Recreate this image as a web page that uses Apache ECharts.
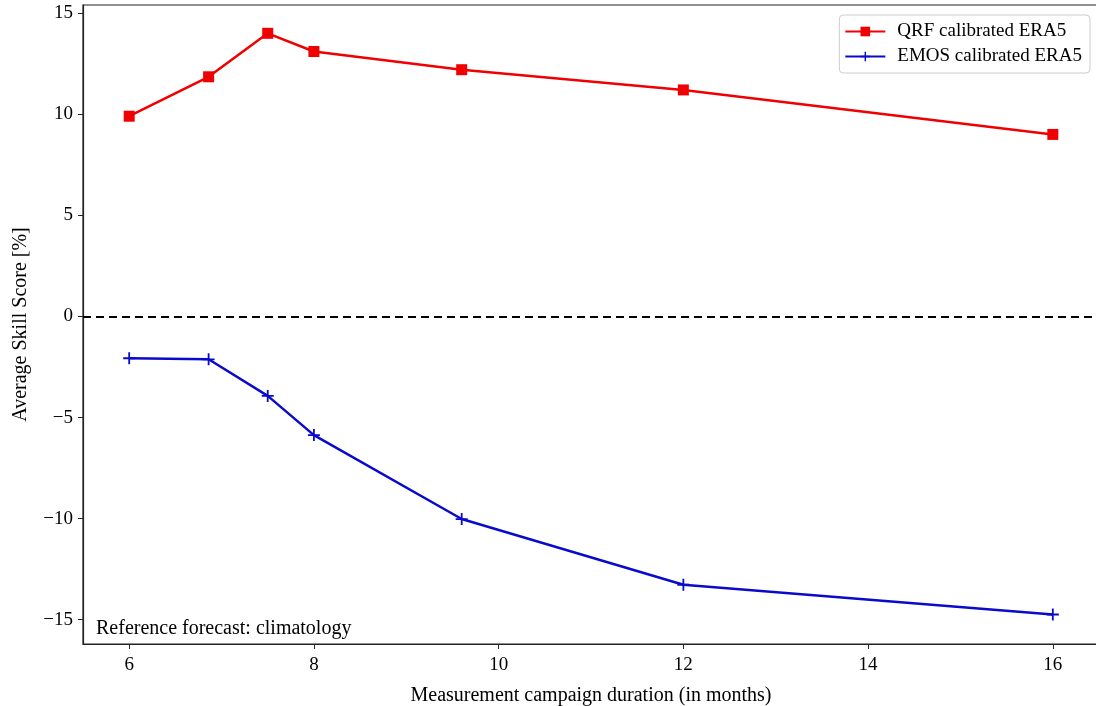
<!DOCTYPE html>
<html>
<head>
<meta charset="utf-8">
<script src="https://cdn.jsdelivr.net/npm/echarts@6/dist/echarts.min.js"></script>
<style>
html,body{margin:0;padding:0;background:#fff;}
#chart{width:1096px;height:706px;}
</style>
</head>
<body>
<div id="chart"></div>
<script>
var durations = [6, 6.86, 7.5, 8, 9.6, 12, 16];
var qrfValues = [9.9, 11.85, 14.0, 13.1, 12.2, 11.2, 9.0];
var emosValues = [-2.07, -2.12, -3.93, -5.87, -10.02, -13.27, -14.74];
var xTicks = [6, 8, 10, 12, 14, 16];
var yTicks = [-15, -10, -5, 0, 5, 10, 15];
var seriesNames = ['QRF calibrated ERA5', 'EMOS calibrated ERA5'];
var annotation = 'Reference forecast: climatology';
var xTitle = 'Measurement campaign duration (in months)';
var yTitle = 'Average Skill Score [%]';

function pairs(xs, ys) { return xs.map(function (x, i) { return [x, ys[i]]; }); }
var FONT = '"Liberation Serif", "DejaVu Serif", serif';
var plusPath = 'path://M4.25,0H5.75V4.25H10V5.75H5.75V10H4.25V5.75H0V4.25H4.25Z';

var chart = echarts.init(document.getElementById('chart'), null, {renderer: 'canvas'});
chart.setOption({
  animation: false,
  backgroundColor: '#fff',
  textStyle: {fontFamily: FONT, color: '#000'},
  grid: {left: 83, right: -3, top: 5, bottom: 62, containLabel: false, outerBoundsMode: 'none',
    show: true, borderColor: '#222', borderWidth: 1.2, backgroundColor: 'transparent'},
  xAxis: {
    type: 'value', min: 5.5, max: 16.5,
    name: xTitle, nameLocation: 'middle', nameGap: 42,
    nameTextStyle: {fontFamily: FONT, fontSize: 20, color: '#000'},
    axisLine: {onZero: false, lineStyle: {color: '#222', width: 1.2}},
    axisTick: {show: true, inside: false, length: 5, customValues: xTicks, lineStyle: {color: '#222', width: 1}},
    axisLabel: {customValues: xTicks, margin: 12, fontFamily: FONT, fontSize: 19, color: '#000'},
    splitLine: {show: false}
  },
  yAxis: {
    type: 'value', min: -16.2, max: 15.4,
    name: yTitle, nameLocation: 'middle', nameGap: 52,
    nameTextStyle: {fontFamily: FONT, fontSize: 20, color: '#000'},
    axisLine: {show: true, onZero: false, lineStyle: {color: '#222', width: 1.2}},
    axisTick: {show: true, inside: false, length: 5, customValues: yTicks, lineStyle: {color: '#222', width: 1}},
    axisLabel: {customValues: yTicks, margin: 10, fontFamily: FONT, fontSize: 19, color: '#000',
      padding: [4, 0, 0, 0],
      formatter: function (v) { return String(v).replace('-', '\u2212'); }},
    splitLine: {show: false}
  },
  legend: {
    orient: 'vertical', right: 6, top: 15,
    padding: [7, 8, 7, 5],
    itemWidth: 40, itemHeight: 12, itemGap: 6,
    borderColor: '#cccccc', borderWidth: 1, borderRadius: 4, backgroundColor: '#fff',
    textStyle: {fontFamily: FONT, fontSize: 19, color: '#000', padding: [0, 0, 0, 7]},
    data: seriesNames
  },
  graphic: [{
    type: 'text', left: 96, top: 619,
    style: {text: annotation, font: '20px ' + FONT, fill: '#000'}
  }],
  series: [
    {
      name: seriesNames[0], type: 'line', data: pairs(durations, qrfValues),
      symbol: 'rect', symbolSize: 11,
      lineStyle: {color: '#f00000', width: 2.5},
      itemStyle: {color: '#f00000'},
      z: 3,
      markLine: {
        silent: true, symbol: ['none', 'none'], label: {show: false},
        lineStyle: {color: '#000', type: [8, 5], width: 2},
        data: [{yAxis: 0}]
      }
    },
    {
      name: seriesNames[1], type: 'line', data: pairs(durations, emosValues),
      symbol: plusPath, symbolSize: 12,
      lineStyle: {color: '#0a0acc', width: 2.5},
      itemStyle: {color: '#0a0acc'},
      z: 3
    }
  ]
});
</script>
</body>
</html>
